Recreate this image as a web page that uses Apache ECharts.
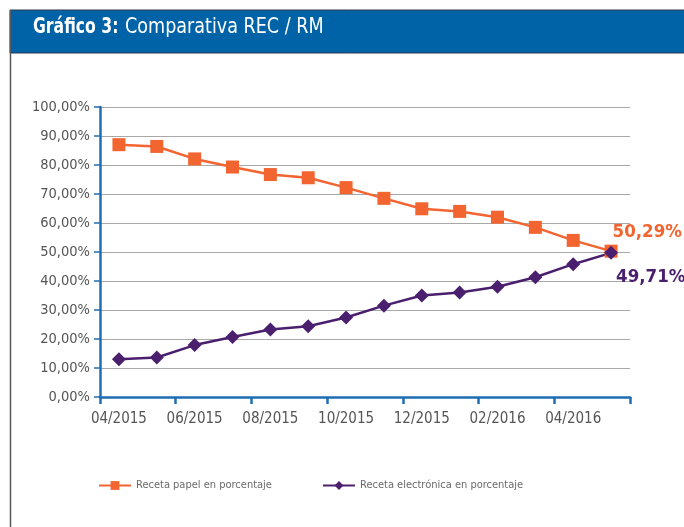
<!DOCTYPE html>
<html><head><meta charset="utf-8">
<script src="https://cdn.jsdelivr.net/npm/echarts@6/dist/echarts.min.js"></script>
<style>html,body{margin:0;padding:0;background:#fff}#c{width:684px;height:527px}</style>
</head><body><div id="c"></div>
<script>
const categories = ['04/2015','05/2015','06/2015','07/2015','08/2015','09/2015','10/2015','11/2015','12/2015','01/2016','02/2016','03/2016','04/2016','05/2016'];
const recetaPapel = [87.0, 86.4, 82.1, 79.3, 76.7, 75.6, 72.2, 68.5, 64.9, 64.0, 62.0, 58.5, 54.0, 50.29];
const recetaElectronica = [13.0, 13.6, 17.9, 20.7, 23.3, 24.4, 27.4, 31.5, 35.0, 36.0, 38.0, 41.3, 45.8, 49.71];
const yTicks = [0,10,20,30,40,50,60,70,80,90,100];
const titleBold = 'Gráfico 3:';
const titleRest = 'Comparativa REC / RM';
const seriesNames = ['Receta papel en porcentaje','Receta electrónica en porcentaje'];

const NARROW = "'Liberation Sans Narrow','DejaVu Sans Condensed',sans-serif";
const ORANGE = '#F26430', PURPLE = '#4A1F6E', BLUE = '#1F6DB3';
const chart = echarts.init(document.getElementById('c'), null, {renderer:'canvas'});
const last = categories.length - 1;
const pct = v => v.toFixed(2).replace('.',',') + '%';
chart.setOption({
  animation:false,
  backgroundColor:'#fff',
  graphic:[
    {type:'rect', shape:{x:10, y:10, width:680, height:43}, style:{fill:'#0062A7', stroke:'#2E3A4C', lineWidth:1}},
    {type:'line', shape:{x1:10.5, y1:10, x2:10.5, y2:527}, style:{stroke:'#55595f', lineWidth:1.5}},
    {type:'text', x:33, y:17, scaleX:0.83, style:{text:titleBold, fontFamily:NARROW, fontWeight:'bold', fontSize:21, fill:'#fff'}},
    {type:'text', x:125, y:17, scaleX:0.93, style:{text:titleRest, fontFamily:NARROW, fontSize:21, fill:'#fff'}}
  ],
  grid:{left:100, right:54, top:107, bottom:130},
  legend:[
    {data:[seriesNames[0]], left:93, top:475, itemWidth:32, itemHeight:11, itemGap:6,
     textStyle:{fontFamily:NARROW, fontSize:11, color:'#6a6a6a'}},
    {data:[seriesNames[1]], left:317, top:475, itemWidth:32, itemHeight:11,
     textStyle:{fontFamily:NARROW, fontSize:11, color:'#6a6a6a'}}
  ],
  xAxis:{type:'category', data:categories, boundaryGap:true,
    axisLine:{lineStyle:{color:BLUE, width:2.5}},
    axisTick:{show:true, alignWithLabel:false, interval:1, length:7, lineStyle:{color:BLUE, width:2.5}},
    axisLabel:{interval:1, margin:15, fontFamily:NARROW, fontSize:15, color:'#555'}},
  yAxis:{type:'value', min:yTicks[0], max:yTicks[yTicks.length-1], interval:yTicks[1]-yTicks[0],
    axisLine:{show:true, lineStyle:{color:BLUE, width:2.5}},
    axisTick:{show:true, length:6, lineStyle:{color:BLUE, width:1.5}},
    splitLine:{lineStyle:{color:'#a8a8a8', width:1.2}},
    axisLabel:{margin:10, fontFamily:NARROW, fontSize:14.5, color:'#555', formatter:pct}},
  series:[
    {name:seriesNames[0], type:'line', data:recetaPapel, symbol:'rect', symbolSize:13,
     itemStyle:{color:ORANGE}, lineStyle:{color:ORANGE, width:2.5},
     label:{show:true, position:'right', offset:[-10,-19], fontFamily:NARROW, fontWeight:'bold', fontSize:18.5, color:ORANGE,
       formatter:p=>p.dataIndex===last ? pct(p.value) : ''}},
    {name:seriesNames[1], type:'line', data:recetaElectronica, symbol:'diamond', symbolSize:14,
     itemStyle:{color:PURPLE}, lineStyle:{color:PURPLE, width:2.5},
     label:{show:true, position:'right', offset:[-7,24], fontFamily:NARROW, fontWeight:'bold', fontSize:18.5, color:PURPLE,
       formatter:p=>p.dataIndex===last ? pct(p.value) : ''}}
  ]
});
</script></body></html>
